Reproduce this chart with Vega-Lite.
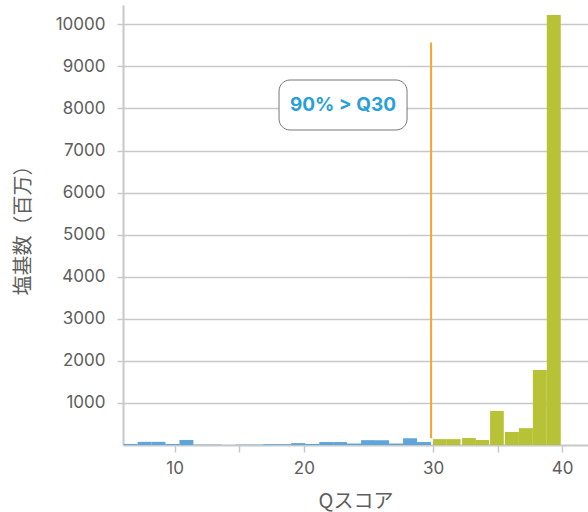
{
  "$schema": "https://vega.github.io/schema/vega-lite/v6.json",
  "autosize": "none",
  "width": 465,
  "height": 440,
  "padding": {"left": 123, "top": 5, "right": 0, "bottom": 67},
  "background": "white",
  "config": {
    "view": {"stroke": null},
    "font": "Inter",
    "axis": {
      "labelFont": "Inter",
      "labelFontSize": 17,
      "labelColor": "#5e5e5e",
      "titleFont": "Noto Sans CJK JP",
      "titleFontSize": 20,
      "titleFontWeight": "normal",
      "titleColor": "#5e5e5e",
      "domainColor": "#c8c8c8",
      "domainWidth": 2,
      "tickColor": "#c8c8c8",
      "tickWidth": 1.5,
      "gridColor": "#c8c8c8",
      "gridWidth": 1.5
    }
  },
  "layer": [
    {
      "data": {"values": [
        {"q0": 6.05, "q1": 7.13, "n": 25, "grp": "lo"},
        {"q0": 7.13, "q1": 8.2, "n": 75, "grp": "lo"},
        {"q0": 8.2, "q1": 9.29, "n": 75, "grp": "lo"},
        {"q0": 9.29, "q1": 10.37, "n": 25, "grp": "lo"},
        {"q0": 10.37, "q1": 11.45, "n": 120, "grp": "lo"},
        {"q0": 11.45, "q1": 12.53, "n": 10, "grp": "lo"},
        {"q0": 12.53, "q1": 13.61, "n": 10, "grp": "lo"},
        {"q0": 13.61, "q1": 14.69, "n": 2, "grp": "lo"},
        {"q0": 14.69, "q1": 15.78, "n": 10, "grp": "lo"},
        {"q0": 15.78, "q1": 16.86, "n": 10, "grp": "lo"},
        {"q0": 16.86, "q1": 17.94, "n": 20, "grp": "lo"},
        {"q0": 17.94, "q1": 19.02, "n": 20, "grp": "lo"},
        {"q0": 19.02, "q1": 20.1, "n": 45, "grp": "lo"},
        {"q0": 20.1, "q1": 21.19, "n": 25, "grp": "lo"},
        {"q0": 21.19, "q1": 22.27, "n": 70, "grp": "lo"},
        {"q0": 22.27, "q1": 23.35, "n": 70, "grp": "lo"},
        {"q0": 23.35, "q1": 24.43, "n": 35, "grp": "lo"},
        {"q0": 24.43, "q1": 25.51, "n": 115, "grp": "lo"},
        {"q0": 25.51, "q1": 26.6, "n": 115, "grp": "lo"},
        {"q0": 26.6, "q1": 27.68, "n": 35, "grp": "lo"},
        {"q0": 27.68, "q1": 28.76, "n": 160, "grp": "lo"},
        {"q0": 28.76, "q1": 29.85, "n": 70, "grp": "lo"},
        {"q0": 30.0, "q1": 31.07, "n": 140, "grp": "hi"},
        {"q0": 31.07, "q1": 32.13, "n": 140, "grp": "hi"},
        {"q0": 32.25, "q1": 33.32, "n": 165, "grp": "hi"},
        {"q0": 33.32, "q1": 34.35, "n": 120, "grp": "hi"},
        {"q0": 34.42, "q1": 35.48, "n": 810, "grp": "hi"},
        {"q0": 35.56, "q1": 36.65, "n": 310, "grp": "hi"},
        {"q0": 36.65, "q1": 37.73, "n": 400, "grp": "hi"},
        {"q0": 37.73, "q1": 38.81, "n": 1780, "grp": "hi"},
        {"q0": 38.81, "q1": 39.89, "n": 10220, "grp": "hi"}
      ]},
      "mark": {"type": "bar", "strokeWidth": 0},
      "encoding": {
        "x": {
          "field": "q0", "type": "quantitative", "title": "Qスコア",
          "scale": {"domain": [6, 42], "nice": false, "zero": false},
          "axis": {
            "values": [10, 15, 20, 30, 35, 40],
            "labelExpr": "datum.value % 10 === 0 ? datum.label : ''",
            "tickSize": 7, "labelPadding": 8, "titlePadding": 15, "grid": false
          }
        },
        "x2": {"field": "q1"},
        "y": {
          "field": "n", "type": "quantitative", "title": "塩基数（百万）",
          "scale": {"domain": [0, 10459], "nice": false},
          "axis": {
            "values": [1000, 2000, 3000, 4000, 5000, 6000, 7000, 8000, 9000, 10000],
            "format": "d", "tickSize": 6, "labelPadding": 12, "titlePadding": 22, "grid": true
          }
        },
        "y2": {"datum": 0},
        "color": {
          "field": "grp", "type": "nominal", "legend": null,
          "scale": {"domain": ["lo", "hi"], "range": ["#5da5da", "#b8c237"]}
        }
      }
    },
    {
      "data": {"values": [{"q0": 29.85, "n": 160, "n2": 9570}]},
      "mark": {"type": "rule", "color": "#f9a533", "strokeWidth": 2},
      "encoding": {
        "x": {"field": "q0", "type": "quantitative", "title": "Qスコア"},
        "y": {"field": "n", "type": "quantitative", "title": "塩基数（百万）"},
        "y2": {"field": "n2"}
      }
    },
    {
      "data": {"values": [{"q0": 18.08, "q1": 27.99, "n": 7488, "n2": 8676}]},
      "mark": {"type": "rect", "fill": "white", "stroke": "#777777", "strokeWidth": 1, "cornerRadius": 11},
      "encoding": {
        "x": {"field": "q0", "type": "quantitative", "title": "Qスコア"},
        "x2": {"field": "q1"},
        "y": {"field": "n", "type": "quantitative", "title": "塩基数（百万）"},
        "y2": {"field": "n2"}
      }
    },
    {
      "data": {"values": [{"q0": 23.03, "n": 8082, "label": "90% > Q30"}]},
      "mark": {"type": "text", "font": "Inter", "fontWeight": "bold", "fontSize": 19, "color": "#2a9fd8", "align": "center", "baseline": "middle"},
      "encoding": {
        "x": {"field": "q0", "type": "quantitative", "title": "Qスコア"},
        "y": {"field": "n", "type": "quantitative", "title": "塩基数（百万）"},
        "text": {"field": "label"}
      }
    }
  ]
}
